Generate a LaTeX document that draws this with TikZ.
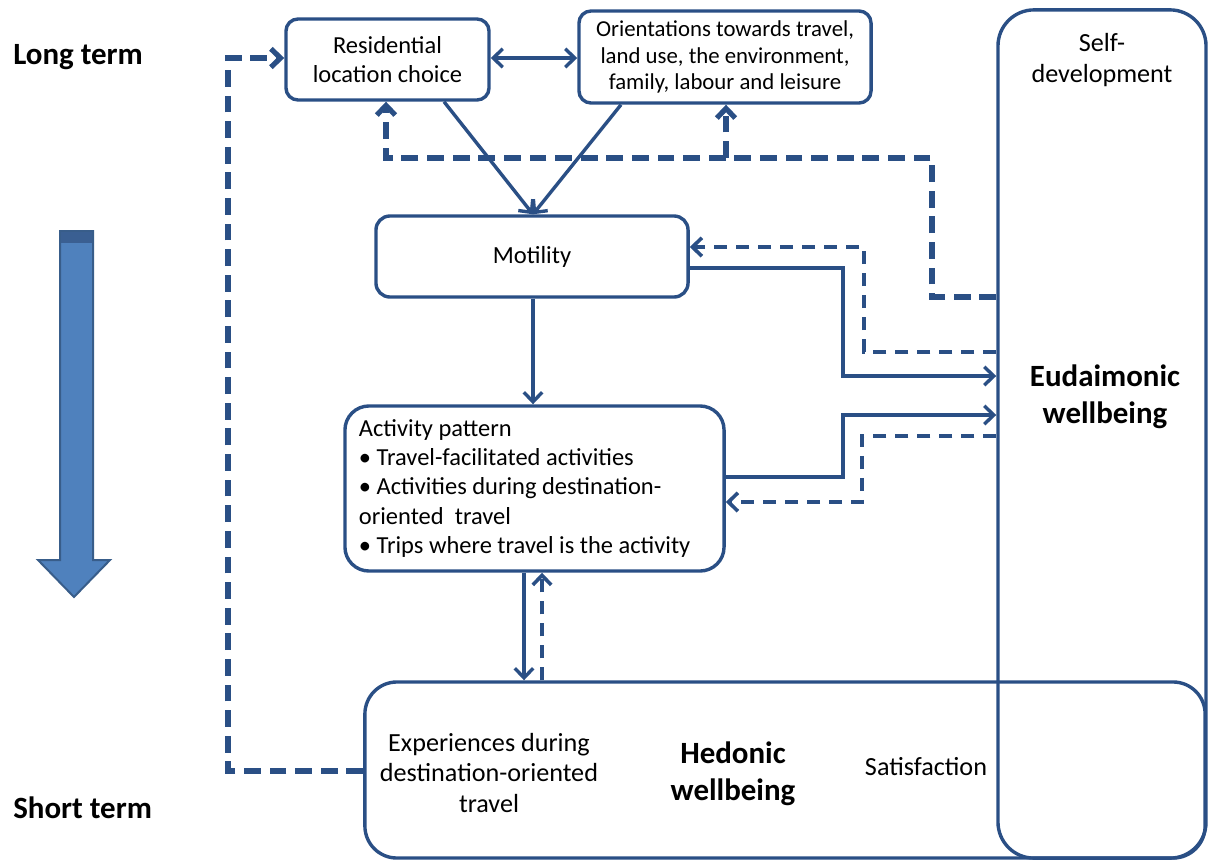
\documentclass[tikz,border=0pt]{standalone}
\usepackage{fontspec}
\setmainfont{Carlito}
\usetikzlibrary{arrows.meta}
\definecolor{ln}{HTML}{2A4F85}
\definecolor{afill}{HTML}{4F81BD}
\definecolor{aline}{HTML}{385D8A}
\definecolor{aband}{HTML}{3A5F92}
\newcommand\myn{\fontsize{17.4}{20.7}\selectfont}
\newcommand\myo{\fontsize{16.2}{19}\selectfont}
\newcommand\myl{\fontsize{18.6}{21.5}\selectfont}
\newcommand\myb{\bfseries\fontsize{22}{26.5}\selectfont}
\begin{document}
\begin{tikzpicture}[x=0.025cm,y=-0.025cm,
  >={Straight Barb[length=0.24cm,width=0.46cm]},
  box/.style={draw=ln, line width=0.085cm, inner sep=0pt, align=center, font=\myn, text=black},
  sl/.style={draw=ln, line width=0.085cm},
  dk/.style={draw=ln, line width=0.13cm, dash pattern=on 0.42cm off 0.22cm},
  dsh/.style={draw=ln, line width=0.09cm, dash pattern=on 0.33cm off 0.22cm},
  lbl/.style={font=\myl, align=center, text=black},
  blbl/.style={font=\myb, align=center, text=black}]
\useasboundingbox (0,0) rectangle (1208,861);

% big time arrow
\filldraw[fill=afill, draw=aline, line width=0.05cm, line join=miter]
  (60,231) -- (93,231) -- (93,560) -- (110,560) -- (74,597) -- (38,560) -- (60,560) -- cycle;
\fill[aband] (61,232) rectangle (92,243);

% boxes
\node[box, rounded corners=0.3cm, minimum width=5.075cm, minimum height=2.025cm] (res) at (387.5,59.5) {Residential\\location choice};
\node[box, font=\myo, rounded corners=0.3cm, minimum width=7.3cm, minimum height=2.3cm] (ori) at (725,57) {Orientations towards travel,\\land use, the environment,\\family, labour and leisure};
\node[box, font=\fontsize{17.5}{21}\selectfont, rounded corners=0.35cm, minimum width=7.8cm, minimum height=2.025cm] (mot) at (532,256.5) {Motility};
\node[box, rounded corners=0.6cm, minimum width=9.475cm, minimum height=4.125cm, text width=8.775cm, inner xsep=0.35cm, align=flush left] (act) at (534.5,488.5)
  {Activity pattern\\\textbullet\ Travel-facilitated activities\\\textbullet\ Activities during destination-\\oriented~ travel\\\textbullet\ Trips where travel is the activity};
\node[box, rounded corners=0.8cm, minimum width=21cm, minimum height=4.4cm] (hed) at (785,770) {};
\node[box, rounded corners=0.9cm, minimum width=5.2cm, minimum height=21.2cm] (eud) at (1102,434) {};

% labels
\node[blbl, anchor=west, inner sep=0pt] (lt) at (13,57) {Long term};
\node[blbl, anchor=west, inner sep=0pt] (st) at (13,808) {Short term};
\node[lbl] (sd) at (1102,60) {Self-\\development};
\node[blbl] (ew) at (1105,397) {Eudaimonic\\wellbeing};
\node[blbl] (hw) at (733,774) {Hedonic\\wellbeing};
\node[lbl] (ex) at (489,773) {Experiences during\\destination-oriented\\travel};
\node[lbl] (sat) at (926,767) {Satisfaction};

% connectors
\draw[sl,<->] (res.east |- 0,58) -- (ori.west |- 0,58);
\draw[sl,->] (res.south -| 444,0) -- (mot.north -| 533,0);
\draw[sl,->] (ori.south -| 621,0) -- (mot.north -| 533,0);
\draw[sl,->] (mot.south -| 533,0) -- (act.north -| 533,0);
\draw[sl,->] (act.south -| 524,0) -- (hed.north -| 524,0);
\draw[dsh,->] (hed.north -| 542,0) -- (act.south -| 542,0);
\draw[dk,->] (hed.west |- 0,771) -- (228,771) -- (228,58) -- (res.west |- 0,58);
\draw[dk,->] (eud.west |- 0,297) -- (932,297) -- (932,158) -- (386,158) -- (res.south -| 386,0);
\draw[dk,->] (726,158) -- (ori.south -| 726,0);
\draw[dsh,->] (eud.west |- 0,352) -- (864,352) -- (864,247) -- (mot.east |- 0,247);
\draw[sl,->] (mot.east |- 0,268) -- (843,268) -- (843,376) -- (eud.west |- 0,376);
\draw[sl,->] (act.east |- 0,477) -- (843,477) -- (843,415) -- (eud.west |- 0,415);
\draw[dsh,->] (eud.west |- 0,436) -- (862,436) -- (862,502) -- (act.east |- 0,502);
\end{tikzpicture}
\end{document}
